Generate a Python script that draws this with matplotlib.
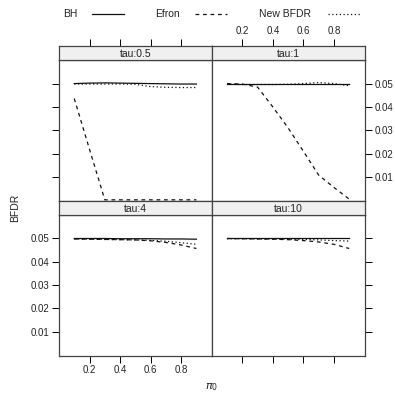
import matplotlib
matplotlib.use("Agg")
import matplotlib.pyplot as plt
from matplotlib.lines import Line2D

plt.rcParams['font.family'] = ['Liberation Sans', 'DejaVu Sans']

pi0 = [0.1, 0.2, 0.3, 0.4, 0.5, 0.6, 0.7, 0.8, 0.9]
panels = ["tau:0.5", "tau:1", "tau:4", "tau:10"]

bh = {
    "tau:0.5": [0.0500, 0.0502, 0.0503, 0.0502, 0.0501, 0.0500, 0.0499, 0.0498, 0.0498],
    "tau:1":   [0.0500, 0.0500, 0.0500, 0.0500, 0.0500, 0.0500, 0.0500, 0.0500, 0.0500],
    "tau:4":   [0.0500, 0.0500, 0.0500, 0.0499, 0.0499, 0.0499, 0.0498, 0.0498, 0.0497],
    "tau:10":  [0.0500, 0.0500, 0.0500, 0.0500, 0.0500, 0.0500, 0.0500, 0.0500, 0.0500],
}
efron = {
    "tau:0.5": [0.0436, 0.0218, 0.0002, 0.0002, 0.0002, 0.0002, 0.0002, 0.0002, 0.0002],
    "tau:1":   [0.0500, 0.0498, 0.0485, 0.0400, 0.0310, 0.0210, 0.0108, 0.0055, 0.0005],
    "tau:4":   [0.0498, 0.0497, 0.0496, 0.0495, 0.0494, 0.0490, 0.0483, 0.0472, 0.0457],
    "tau:10":  [0.0500, 0.0499, 0.0498, 0.0497, 0.0495, 0.0491, 0.0485, 0.0475, 0.0457],
}
newbfdr = {
    "tau:0.5": [0.0498, 0.0498, 0.0498, 0.0498, 0.0497, 0.0487, 0.0484, 0.0483, 0.0483],
    "tau:1":   [0.0497, 0.0496, 0.0496, 0.0496, 0.0497, 0.0500, 0.0504, 0.0500, 0.0491],
    "tau:4":   [0.0498, 0.0497, 0.0496, 0.0495, 0.0494, 0.0492, 0.0488, 0.0482, 0.0475],
    "tau:10":  [0.0499, 0.0499, 0.0498, 0.0498, 0.0497, 0.0496, 0.0494, 0.0491, 0.0489],
}

xticks = [0.2, 0.4, 0.6, 0.8]
yticks = [0.01, 0.02, 0.03, 0.04, 0.05]
ytick_labels = ["0.01", "0.02", "0.03", "0.04", "0.05"]

W, H = 395, 397
fig = plt.figure(figsize=(W / 100, H / 100), dpi=100)

def rect(x0, y0, x1, y1):
    return [x0 / W, 1 - y1 / H, (x1 - x0) / W, (y1 - y0) / H]

xs = [59, 211.7, 364.5]
rows = [(46, 60, 201), (201, 215, 355.5)]  # strip top, panel top, panel bottom
border = "#444444"
fs = 7
line_col = "#111111"
dash = (0, (3, 3))
dot = (0, (1, 2))

for i, name in enumerate(panels):
    r, c = divmod(i, 2)
    st, pt, pb = rows[r]
    x0, x1 = xs[c], xs[c + 1]
    ax = fig.add_axes(rect(x0, pt, x1, pb))
    ax.plot(pi0, bh[name], color=line_col, lw=0.9, ls="-")
    ax.plot(pi0, efron[name], color=line_col, lw=0.9, ls=dash)
    ax.plot(pi0, newbfdr[name], color=line_col, lw=0.9, ls=dot)
    ax.set_xlim(0, 1)
    ax.set_ylim(-0.0003, 0.0601)
    for s in ax.spines.values():
        s.set_color(border)
        s.set_linewidth(0.9)
    ax.set_xticks(xticks)
    ax.set_yticks(yticks)
    ax.tick_params(direction="out", length=5, width=0.7, colors="black",
                   labelsize=fs, pad=2, labelcolor="#222222")
    if r == 0:
        ax.tick_params(axis="x", bottom=False, labelbottom=False, top=False, labeltop=False)
    else:
        ax.tick_params(axis="x", bottom=True, top=False, labeltop=False,
                       labelbottom=(c == 0))
        if c == 0:
            ax.set_xticklabels([f"{v:.1f}" for v in xticks])
    if c == 0:
        ax.tick_params(axis="y", left=True, right=False, labelright=False,
                       labelleft=(r == 1))
        if r == 1:
            ax.set_yticklabels(ytick_labels)
    else:
        ax.tick_params(axis="y", left=False, labelleft=False, right=True,
                       labelright=(r == 0))
        if r == 0:
            ax.set_yticklabels(ytick_labels)
    sax = fig.add_axes(rect(x0, st, x1, pt))
    sax.set_facecolor("#f0f0f0")
    sax.set_xlim(0, 1)
    sax.set_ylim(0, 1)
    sax.set_yticks([])
    for s in sax.spines.values():
        s.set_color(border)
        s.set_linewidth(0.9)
    sax.text(0.5, 0.45, name, ha="center", va="center", fontsize=fs + 0.5, color="#222222")
    if r == 0:
        sax.set_xticks(xticks)
        sax.tick_params(axis="x", bottom=False, labelbottom=False, top=True,
                        labeltop=(c == 1), direction="out", length=5, width=0.7,
                        labelsize=fs, pad=2, labelcolor="#222222")
        if c == 1:
            sax.set_xticklabels([f"{v:.1f}" for v in xticks])
    else:
        sax.set_xticks([])

fig.text(15 / W, 1 - 208 / H, "BFDR", rotation=90, ha="center", va="center",
         fontsize=fs + 0.5, color="#222222")
fig.text(211.7 / W, 1 - 387 / H, r"$\pi_0$", ha="center", va="center",
         fontsize=fs + 1, color="#222222")

ly = 1 - 14 / H
legend_items = [("BH", "-", 63, 92, 124), ("Efron", dash, 155, 195, 227),
                ("New BFDR", dot, 259, 328, 360)]
for label, ls, tx, lx0, lx1 in legend_items:
    fig.text(tx / W, ly, label, ha="left", va="center", fontsize=fs + 0.5, color="#222222")
    fig.add_artist(Line2D([lx0 / W, lx1 / W], [ly, ly], color=line_col, lw=0.9, ls=ls,
                          transform=fig.transFigure))

fig.savefig("out.png", dpi=100)
